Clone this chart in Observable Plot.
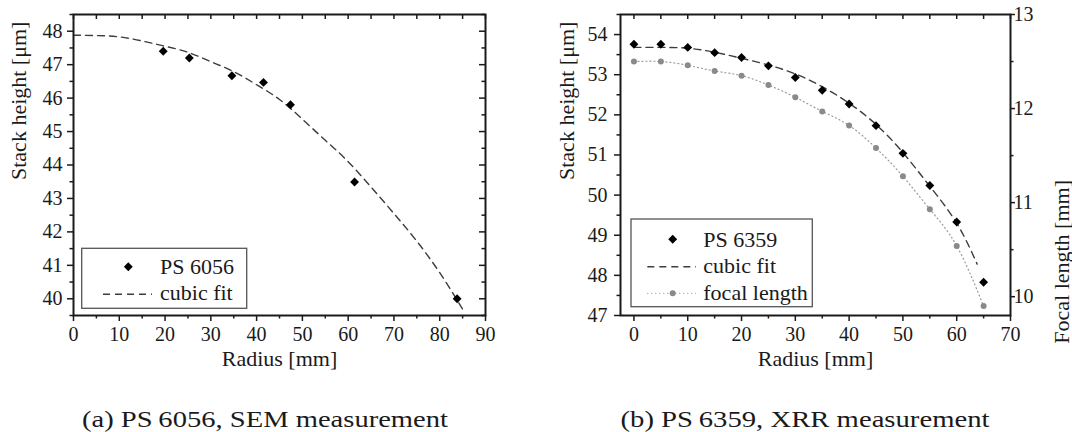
<!DOCTYPE html>
<html>
<head>
<meta charset="utf-8">
<script src="https://cdn.jsdelivr.net/npm/d3@7"></script>
<script src="https://cdn.jsdelivr.net/npm/@observablehq/plot@0.6"></script>
<style>
  body { margin: 0; background: #fff; }
  #fig { position: relative; width: 1072px; height: 432px; font-family: "Liberation Serif", serif; color: #111; }
  #fig > svg { position: absolute; top: 0; }
  #fig svg, #fig svg text, #fig svg g { font-family: "Liberation Serif", "Times New Roman", serif !important; }
</style>
</head>
<body>
<div id="fig"></div>
<script>
// ---------- data (a): PS 6056, SEM ----------
const semRadius = [19.6, 25.3, 34.6, 41.5, 47.4, 61.4, 83.8];
const semHeight = [47.40, 47.20, 46.67, 46.47, 45.80, 43.49, 40.00];
const semFitRadius = [0, 5, 10, 15, 20, 25, 30, 35, 40, 45, 50, 55, 60, 65, 70, 75, 80, 85];
const semFitHeight = [47.88, 47.87, 47.83, 47.71, 47.55, 47.37, 47.09, 46.79, 46.40, 45.96, 45.37, 44.74, 44.10, 43.34, 42.55, 41.72, 40.78, 39.69];

// ---------- data (b): PS 6359, XRR ----------
const xrrRadius = [0, 5, 10, 15, 20, 25, 30, 35, 40, 45, 50, 55, 60, 65];
const xrrHeight = [53.76, 53.76, 53.68, 53.55, 53.43, 53.22, 52.93, 52.61, 52.27, 51.73, 51.04, 50.24, 49.33, 47.83];
const xrrFitRadius = [0, 5, 10, 15, 20, 25, 30, 35, 40, 45, 50, 55, 60, 63.8];
const xrrFitHeight = [53.68, 53.68, 53.66, 53.56, 53.41, 53.24, 53.02, 52.70, 52.29, 51.76, 51.06, 50.22, 49.30, 48.28];
const focalLength = [12.50, 12.50, 12.46, 12.40, 12.35, 12.25, 12.12, 11.97, 11.82, 11.58, 11.28, 10.93, 10.54, 9.90];

// ---------- ticks / labels ----------
const semXMajor = [0, 10, 20, 30, 40, 50, 60, 70, 80, 90];
const semXMinor = [5, 15, 25, 35, 45, 55, 65, 75, 85];
const semYMajor = [40, 41, 42, 43, 44, 45, 46, 47, 48];
const semYMinor = [39.5, 40.5, 41.5, 42.5, 43.5, 44.5, 45.5, 46.5, 47.5, 48.5];
const xrrXMajor = [0, 10, 20, 30, 40, 50, 60, 70];
const xrrXMinor = [5, 15, 25, 35, 45, 55, 65];
const xrrYMajor = [47, 48, 49, 50, 51, 52, 53, 54];
const xrrYMinor = [47.5, 48.5, 49.5, 50.5, 51.5, 52.5, 53.5, 54.5];
const focalMajor = [10, 11, 12, 13];
const focalMinor = [10.5, 11.5, 12.5];

const xLabel = "Radius [mm]";
const yLabel = "Stack height [μm]";
const y2Label = "Focal length [mm]";
const captionA = "(a) PS\u20096056, SEM measurement";
const captionB = "(b) PS\u20096359, XRR measurement";

// ---------- tables ----------
const semPts = semRadius.map((r, i) => ({r, h: semHeight[i]}));
const semFit = semFitRadius.map((r, i) => ({r, h: semFitHeight[i]}));
const xrrPts = xrrRadius.map((r, i) => ({r, h: xrrHeight[i]}));
const xrrFit = xrrFitRadius.map((r, i) => ({r, h: xrrFitHeight[i]}));

// secondary axis mapping: focal [9.8, 13] -> stack height [47, 54.5]
const yDomB = [47, 54.5], fDom = [9.8, 13];
const toLeft = f => yDomB[0] + (f - fDom[0]) * (yDomB[1] - yDomB[0]) / (fDom[1] - fDom[0]);
const toRight = y => fDom[0] + (y - yDomB[0]) * (fDom[1] - fDom[0]) / (yDomB[1] - yDomB[0]);
const focalPts = xrrRadius.map((r, i) => ({r, f: toLeft(focalLength[i])}));

const W = 536, H = 380;
const INK = "#1a1a1a";
const FONT = "Liberation Serif";
const baseStyle = {fontFamily: FONT, fontSize: "20px", color: INK, background: "none", overflow: "visible"};

function ticksX(vals, where, len, plotH) {
  return where === "out"
    ? Plot.tickX(vals, {x: d => d, insetTop: plotH, insetBottom: -len, stroke: INK, strokeWidth: 1.5})
    : Plot.tickX(vals, {x: d => d, insetTop: 0, insetBottom: plotH - len, stroke: INK, strokeWidth: 1.5});
}
function ticksYLeft(vals, len, plotW) {
  return Plot.tickY(vals, {y: d => d, insetLeft: -len, insetRight: plotW, stroke: INK, strokeWidth: 1.5});
}
function ticksYRightIn(vals, len, plotW) {
  return Plot.tickY(vals, {y: d => d, insetLeft: plotW - len, insetRight: 0, stroke: INK, strokeWidth: 1.5});
}
function ticksYRightOut(vals, len, plotW) {
  return Plot.tickY(vals, {y: d => d, insetLeft: plotW, insetRight: -len, stroke: INK, strokeWidth: 1.5});
}

// ---------- panel (a) ----------
{
  const mL = 73, mR = 51, mT = 14, mB = 65;
  const pW = W - mL - mR, pH = H - mT - mB;
  const chart = Plot.plot({
    width: W, height: H,
    marginLeft: mL, marginRight: mR, marginTop: mT, marginBottom: mB,
    x: {domain: [0, 90]},
    y: {domain: [39.5, 48.5]},
    style: baseStyle,
    marks: [
      Plot.line(semFit, {x: "r", y: "h", stroke: "#3d3d3d", strokeWidth: 1.4, strokeDasharray: "7,5", curve: "natural"}),
      Plot.dot(semPts, {x: "r", y: "h", symbol: "diamond2", r: 4, fill: "#000", stroke: "none"}),
      ticksX(semXMajor, "out", 6, pH),
      ticksX(semXMinor, "out", 3.5, pH),
      ticksX(semXMajor.concat(semXMinor), "in", 5, pH),
      ticksYLeft(semYMajor, 6, pW),
      ticksYLeft(semYMinor, 3.5, pW),
      ticksYRightIn(semYMajor, 6, pW),
      ticksYRightIn(semYMinor, 3.5, pW),
      Plot.axisX(semXMajor, {tickSize: 0, tickPadding: 11, label: null, fontFamily: FONT}),
      Plot.axisY(semYMajor, {tickSize: 0, tickPadding: 11, label: null, fontFamily: FONT}),
      Plot.text([xLabel], {text: d => d, frameAnchor: "bottom", dy: 50, fontSize: 22, fontFamily: FONT}),
      Plot.text([yLabel], {text: d => d, frameAnchor: "left", rotate: -90, dx: -55, dy: 15, fontSize: 22, fontFamily: FONT}),
      Plot.frame({stroke: INK, strokeWidth: 2})
    ]
  });
  chart.style.left = "0px";
  document.getElementById("fig").appendChild(chart);
}

// ---------- panel (b) ----------
{
  const mL = 84, mR = 62, mT = 14, mB = 65;
  const pW = W - mL - mR, pH = H - mT - mB;
  const chart = Plot.plot({
    width: W, height: H,
    marginLeft: mL, marginRight: mR, marginTop: mT, marginBottom: mB,
    x: {domain: [-2.5, 70]},
    y: {domain: yDomB},
    style: baseStyle,
    marks: [
      Plot.line(focalPts, {x: "r", y: "f", stroke: "#999", strokeWidth: 1.2, strokeDasharray: "1,3", curve: "natural"}),
      Plot.dot(focalPts, {x: "r", y: "f", r: 3, fill: "#8a8a8a", stroke: "none"}),
      Plot.line(xrrFit, {x: "r", y: "h", stroke: "#3d3d3d", strokeWidth: 1.4, strokeDasharray: "7,5", curve: "natural"}),
      Plot.dot(xrrPts, {x: "r", y: "h", symbol: "diamond2", r: 4, fill: "#000", stroke: "none"}),
      ticksX(xrrXMajor, "out", 6, pH),
      ticksX(xrrXMinor, "out", 3.5, pH),
      ticksX(xrrXMajor.concat(xrrXMinor), "in", 5, pH),
      ticksYLeft(xrrYMajor, 6, pW),
      ticksYLeft(xrrYMinor, 3.5, pW),
      ticksYRightOut(focalMajor.map(toLeft), 5, pW),
      ticksYRightOut(focalMinor.map(toLeft), 3.5, pW),
      Plot.axisX(xrrXMajor, {tickSize: 0, tickPadding: 11, label: null, fontFamily: FONT}),
      Plot.axisY(xrrYMajor, {tickSize: 0, tickPadding: 13, label: null, fontFamily: FONT}),
      Plot.axisY(focalMajor.map(toLeft), {anchor: "right", tickSize: 0, tickPadding: 3, label: null, fontFamily: FONT,
        tickFormat: d => String(Math.round(toRight(d)))}),
      Plot.text([xLabel], {text: d => d, frameAnchor: "bottom", dy: 50, fontSize: 22, fontFamily: FONT}),
      Plot.text([yLabel], {text: d => d, frameAnchor: "left", rotate: -90, dx: -54, dy: 15, fontSize: 22, fontFamily: FONT}),
      Plot.text([y2Label], {text: d => d, frameAnchor: "right", rotate: -90, dx: 51, dy: 15, fontSize: 22, fontFamily: FONT}),
      Plot.frame({stroke: INK, strokeWidth: 2})
    ]
  });
  chart.style.left = W + "px";
  document.getElementById("fig").appendChild(chart);
}

// ---------- legends and captions overlay ----------
{
  const svg = d3.select("#fig").append("svg")
    .attr("width", 1072).attr("height", 432)
    .style("left", "0px").style("pointer-events", "none")
    .style("fill", INK);
  const diamond = d3.symbol(d3.symbolDiamond2, Math.PI * 16)();

  // legend (a)
  const la = svg.append("g");
  la.append("rect").attr("x", 81.7).attr("y", 248.3).attr("width", 165).attr("height", 60)
    .attr("fill", "#fff").attr("stroke", "#555").attr("stroke-width", 1.3);
  la.append("path").attr("d", diamond).attr("transform", "translate(128.3,266.7)").attr("fill", "#000");
  la.append("text").attr("x", 160).attr("y", 274).attr("font-size", 22).text("PS 6056");
  la.append("line").attr("x1", 103).attr("x2", 152).attr("y1", 294.3).attr("y2", 294.3)
    .attr("stroke", "#3d3d3d").attr("stroke-width", 1.4).attr("stroke-dasharray", "7,5");
  la.append("text").attr("x", 160).attr("y", 300).attr("font-size", 22).text("cubic fit");

  // legend (b)
  const lb = svg.append("g");
  lb.append("rect").attr("x", 631).attr("y", 219).attr("width", 181.3).attr("height", 87.7)
    .attr("fill", "#fff").attr("stroke", "#555").attr("stroke-width", 1.3);
  lb.append("path").attr("d", diamond).attr("transform", "translate(672.7,239.3)").attr("fill", "#000");
  lb.append("text").attr("x", 703.3).attr("y", 246.7).attr("font-size", 22).text("PS 6359");
  lb.append("line").attr("x1", 647.3).attr("x2", 696).attr("y1", 266.7).attr("y2", 266.7)
    .attr("stroke", "#3d3d3d").attr("stroke-width", 1.4).attr("stroke-dasharray", "7,5");
  lb.append("text").attr("x", 703.3).attr("y", 273.3).attr("font-size", 22).text("cubic fit");
  lb.append("line").attr("x1", 647.3).attr("x2", 696).attr("y1", 293.3).attr("y2", 293.3)
    .attr("stroke", "#999").attr("stroke-width", 1.2).attr("stroke-dasharray", "1,3");
  lb.append("circle").attr("cx", 672.7).attr("cy", 293.3).attr("r", 3).attr("fill", "#8a8a8a");
  lb.append("text").attr("x", 703.3).attr("y", 300).attr("font-size", 22).text("focal length");

  // captions (LaTeX-style, wide set)
  svg.append("text").attr("x", 265).attr("y", 427).attr("text-anchor", "middle").attr("font-size", 23)
    .attr("textLength", 366).attr("lengthAdjust", "spacingAndGlyphs").text(captionA);
  svg.append("text").attr("x", 805).attr("y", 427).attr("text-anchor", "middle").attr("font-size", 23)
    .attr("textLength", 369).attr("lengthAdjust", "spacingAndGlyphs").text(captionB);
}
</script>
</body>
</html>
